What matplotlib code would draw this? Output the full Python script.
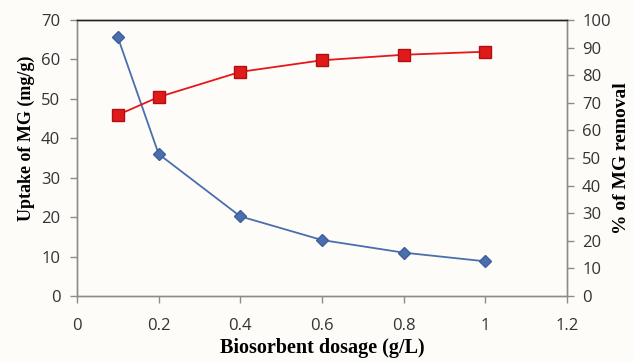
import matplotlib.pyplot as plt

# data
dosage = [0.1, 0.2, 0.4, 0.6, 0.8, 1.0]
uptake = [65.6, 36.0, 20.2, 14.2, 11.0, 8.8]        # mg/g, left axis
removal = [65.6, 72.1, 81.2, 85.4, 87.4, 88.5]      # %, right axis

x_ticks = [0, 0.2, 0.4, 0.6, 0.8, 1, 1.2]
x_labels = ["0", "0.2", "0.4", "0.6", "0.8", "1", "1.2"]

bg = "#fdfcf9"
tick_font = "Open Sans"
label_font = "Liberation Serif"

fig = plt.figure(figsize=(6.34, 3.62), dpi=100, facecolor=bg)
ax = fig.add_axes([0.1215, 0.1823, 0.7725, 0.7625], facecolor=bg)
ax2 = ax.twinx()

ax.plot(dosage, uptake, color="#4a6eae", lw=1.3, marker="D", ms=6,
        mfc="#4a6eae", mec="#3d5f9c", zorder=3)
ax2.plot(dosage, removal, color="#e8161b", lw=1.3, marker="s", ms=8,
         mfc="#e01a1a", mec="#b01010", zorder=3)

ax.set_xlim(0, 1.2)
ax.set_ylim(0, 70)
ax2.set_ylim(0, 100)
ax.set_xticks(x_ticks)
ax.set_xticklabels(x_labels)
ax.set_yticks(range(0, 71, 10))
ax2.set_yticks(range(0, 101, 10))

for a in (ax, ax2):
    for s in ("left", "right", "bottom"):
        a.spines[s].set_color("#8c8c8c")
        a.spines[s].set_linewidth(1.0)
    a.spines["top"].set_color("#222222")
    a.spines["top"].set_linewidth(1.0)
    a.tick_params(colors="#8c8c8c", labelcolor="#333333", length=5,
                  width=1.0, labelsize=12)
    for lab in a.get_xticklabels() + a.get_yticklabels():
        lab.set_fontfamily(tick_font)
ax.tick_params(axis="x", pad=11)
ax.tick_params(axis="y", pad=7)
ax2.tick_params(axis="y", pad=6)

ax.set_ylabel("Uptake of MG (mg/g)", fontfamily=label_font,
              fontweight="bold", fontsize=13)
ax.yaxis.set_label_coords(-0.086, 0.57)
ax2.set_ylabel("% of MG removal", fontfamily=label_font,
               fontweight="bold", fontsize=14)
ax2.yaxis.set_label_coords(1.094, 0.5)
ax.set_xlabel("Biosorbent dosage (g/L)", fontfamily=label_font,
              fontweight="bold", fontsize=14.5)
ax.xaxis.set_label_coords(0.5, -0.152)

fig.savefig("out.png", dpi=100, facecolor=bg)
